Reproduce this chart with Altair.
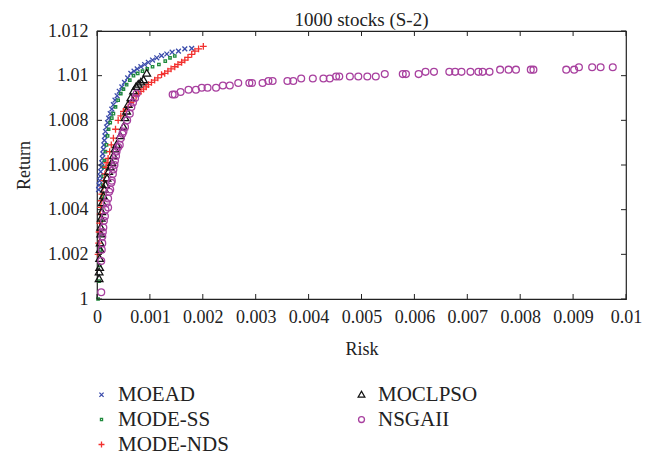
import altair as alt
import pandas as pd

# ---------------- data ----------------
series_order = ["MOEAD", "MODE-SS", "MODE-NDS", "MOCLPSO", "NSGAII"]

moead_x = [0.00003, 0.00004, 0.00005, 0.00006, 0.00007, 0.00008, 0.00009, 0.0001, 0.00011, 0.00012,
           0.00013, 0.00014, 0.00015, 0.00016, 0.00018, 0.0002, 0.00022, 0.00025, 0.00028, 0.00031,
           0.00034, 0.00038, 0.00042, 0.00047, 0.00052, 0.00058, 0.00064, 0.0007, 0.00076, 0.00083,
           0.0009, 0.00097, 0.00105, 0.00113, 0.00122, 0.00132, 0.00142, 0.00154, 0.00166, 0.00179]
moead_y = [1.0049, 1.0051, 1.0053, 1.0055, 1.0057, 1.0059, 1.0061, 1.0063, 1.0065, 1.0067,
           1.0069, 1.0071, 1.0073, 1.0075, 1.0077, 1.0079, 1.0081, 1.0083, 1.0085, 1.0087,
           1.0089, 1.0091, 1.0093, 1.0095, 1.0097, 1.0099, 1.0101, 1.0102, 1.0103, 1.0104,
           1.0105, 1.0106, 1.0107, 1.0108, 1.0109, 1.01097, 1.01105, 1.0111, 1.0112, 1.01122]

modess_x = [0.00002, 0.00004, 0.00005, 0.00006, 0.00007, 0.00008, 0.00009, 0.0001, 0.00011, 0.00012,
            0.00013, 0.00014, 0.00016, 0.00018, 0.0002, 0.00022, 0.00025, 0.00028, 0.00031, 0.00035,
            0.0004, 0.00045, 0.0005, 0.00056, 0.00062, 0.00069, 0.00077, 0.00086, 0.00095, 0.00105,
            0.00117, 0.00129, 0.00138, 0.00147]
modess_y = [1.0000, 1.0008, 1.0015, 1.0022, 1.0029, 1.0035, 1.0041, 1.0046, 1.0051, 1.0055,
            1.0059, 1.0062, 1.0066, 1.0069, 1.0073, 1.0076, 1.0079, 1.0081, 1.0083, 1.0086,
            1.0089, 1.0092, 1.0094, 1.0096, 1.0098, 1.0100, 1.0101, 1.0102, 1.0103, 1.0104,
            1.0105, 1.01065, 1.0108, 1.01088]

modends_x = [0.00002, 0.00003, 0.00004, 0.00005, 0.00006, 0.00007, 0.00008, 0.00009, 0.00011, 0.00013,
             0.00015, 0.00017, 0.00019, 0.00021, 0.00024, 0.00027, 0.00031, 0.00035, 0.0004, 0.00045,
             0.0005, 0.00055, 0.00059, 0.00064, 0.00069, 0.00074, 0.00078, 0.00083, 0.00088, 0.00093,
             0.00097, 0.00103, 0.00109, 0.00115, 0.00122, 0.00128, 0.00134, 0.0014, 0.00147, 0.00153,
             0.0016, 0.00166, 0.00172, 0.00179, 0.00185, 0.00192, 0.00201]
modends_y = [1.0020, 1.0025, 1.0030, 1.0034, 1.0038, 1.0041, 1.0044, 1.0047, 1.0050, 1.0053,
             1.0056, 1.0059, 1.0061, 1.0063, 1.0066, 1.0069, 1.0072, 1.0076, 1.0080, 1.0082,
             1.0084, 1.0085, 1.0086, 1.0088, 1.0089, 1.0091, 1.0092, 1.0093, 1.0094, 1.0095,
             1.0096, 1.0097, 1.0098, 1.0099, 1.01005, 1.0101, 1.0102, 1.0103, 1.0104, 1.0105,
             1.0106, 1.0107, 1.01082, 1.01095, 1.0111, 1.0112, 1.01131]

moclpso_x = [0.00004, 0.00004, 0.00005, 0.00005, 0.00006, 0.00006, 0.00007, 0.00007, 0.00008, 0.00009,
             0.0001, 0.00012, 0.00014, 0.00016, 0.00019, 0.00022, 0.00025, 0.00028, 0.00031, 0.00034,
             0.00037, 0.00044, 0.0005, 0.00053, 0.00056, 0.00059, 0.00064, 0.00069, 0.00074, 0.00078,
             0.00083, 0.00088, 0.00094]
moclpso_y = [1.0009, 1.0012, 1.0014, 1.0018, 1.0022, 1.0025, 1.0029, 1.0032, 1.0036, 1.0039,
             1.0043, 1.0046, 1.0049, 1.0051, 1.0054, 1.0057, 1.0059, 1.0061, 1.0064, 1.0067,
             1.0069, 1.0073, 1.0077, 1.0081, 1.0084, 1.0087, 1.0090, 1.0093, 1.0095, 1.0096,
             1.0097, 1.0098, 1.0101]

nsga_x = [0.00008, 0.00008, 0.00009, 0.0001, 0.0001, 0.00011, 0.00012, 0.00013, 0.00015, 0.00016,
          0.00018, 0.00021, 0.00021, 0.00023, 0.00025, 0.00027, 0.00028, 0.0003, 0.00031, 0.00033,
          0.00034, 0.00036, 0.00037, 0.0004, 0.00043, 0.00045, 0.00048, 0.0005, 0.00053, 0.00057,
          0.00062, 0.00065, 0.00068, 0.00072, 0.00075,
          0.00143, 0.00147, 0.00158, 0.00173, 0.00187, 0.00198, 0.00209, 0.00225, 0.00238, 0.00251,
          0.00267, 0.00288, 0.00293, 0.00313, 0.00324, 0.00332, 0.0036, 0.00371, 0.00386, 0.00408,
          0.00428, 0.0044, 0.00452, 0.00458, 0.00478, 0.00494, 0.00511, 0.00527, 0.00544, 0.00578,
          0.00584, 0.00608, 0.00621, 0.00637, 0.00666, 0.00677, 0.00689, 0.00706, 0.00721, 0.00729,
          0.00742, 0.00762, 0.00778, 0.00792, 0.0082, 0.00825, 0.00887, 0.00902, 0.00911, 0.00936,
          0.00952, 0.00975]
nsga_y = [1.0003, 1.0017, 1.0022, 1.0025, 1.0028, 1.0030, 1.0032, 1.0035, 1.0037, 1.0040,
          1.0043, 1.0045, 1.0041, 1.0048, 1.0049, 1.0052, 1.0053, 1.0056, 1.0058, 1.0060,
          1.0062, 1.0064, 1.0066, 1.0068, 1.0069, 1.0072, 1.0074, 1.0075, 1.0077, 1.0080,
          1.0083, 1.0086, 1.0088, 1.0090, 1.0092,
          1.00916, 1.00916, 1.00927, 1.00937, 1.00937, 1.00946, 1.00946, 1.00946, 1.00956, 1.00956,
          1.00967, 1.00967, 1.00967, 1.00967, 1.00976, 1.00976, 1.00976, 1.00976, 1.00987, 1.00987,
          1.00987, 1.00987, 1.00996, 1.00996, 1.00996, 1.00996, 1.00996, 1.00996, 1.01007, 1.01007,
          1.01007, 1.01007, 1.01017, 1.01017, 1.01017, 1.01017, 1.01017, 1.01017, 1.01017, 1.01017,
          1.01017, 1.01027, 1.01027, 1.01027, 1.01027, 1.01027, 1.01027, 1.01027, 1.01038, 1.01038,
          1.01038, 1.01038]

x_ticks = [0, 0.001, 0.002, 0.003, 0.004, 0.005, 0.006, 0.007, 0.008, 0.009, 0.01]
y_ticks = [1.0, 1.002, 1.004, 1.006, 1.008, 1.01, 1.012]

rows = []
for k, (name, xs_, ys_) in enumerate([("MOEAD", moead_x, moead_y), ("MODE-SS", modess_x, modess_y),
                                      ("MODE-NDS", modends_x, modends_y), ("MOCLPSO", moclpso_x, moclpso_y),
                                      ("NSGAII", nsga_x, nsga_y)]):
    for a, b in zip(xs_, ys_):
        rows.append({"series": name, "risk": a, "ret": b, "layer": k})
df = pd.DataFrame(rows)

# ---------------- styles ----------------
W, H = 529, 268
colors = ["#3a4bab", "#1f8a3c", "#f2302e", "#111111", "#a8409f"]
# marker glyphs drawn at one symbol size; the path extent sets the visible size
shapes = [
    "M-0.6,-0.6L0.6,0.6M-0.6,0.6L0.6,-0.6",
    "M-0.3,-0.3L0.3,-0.3L0.3,0.3L-0.3,0.3Z",
    "M-0.85,0L0.85,0M0,-0.85L0,0.85",
    "M0,-1L0.95,0.65L-0.95,0.65Z",
    "M0.85,0A0.85,0.85 0 1 1 -0.85,0A0.85,0.85 0 1 1 0.85,0Z",
]
FONT = "Liberation Serif"
INK = "#222"

xs = alt.Scale(domain=[0, 0.01], nice=False, zero=False)
ys = alt.Scale(domain=[1.0, 1.012], nice=False, zero=False)

points = alt.Chart(df).mark_point(filled=False, strokeWidth=1.3, opacity=1, size=64).encode(
    x=alt.X("risk:Q", scale=xs, title="Risk",
            axis=alt.Axis(values=x_ticks, format="~g", ticks=False, tickSize=0, domain=False,
                          grid=False, labelPadding=9, titlePadding=14, labelFlush=False,
                          labelFont=FONT, labelFontSize=18, labelColor=INK,
                          titleFont=FONT, titleFontSize=18, titleFontWeight="normal", titleColor=INK)),
    y=alt.Y("ret:Q", scale=ys, title="Return",
            axis=alt.Axis(values=y_ticks, format="~g", ticks=False, tickSize=0, domain=False,
                          grid=False, labelPadding=9, titlePadding=14, labelFlush=False,
                          labelFont=FONT, labelFontSize=18, labelColor=INK,
                          titleFont=FONT, titleFontSize=18, titleFontWeight="normal", titleColor=INK)),
    color=alt.Color("series:N", scale=alt.Scale(domain=series_order, range=colors),
                    legend=alt.Legend(title=None, orient="none", legendX=-6, legendY=353,
                                      columns=2, columnPadding=122, rowPadding=3,
                                      labelFont=FONT, labelFontSize=21, labelColor=INK,
                                      labelOffset=6, padding=0, symbolSize=49,
                                      symbolStrokeWidth=1.3)),
    shape=alt.Shape("series:N", scale=alt.Scale(domain=series_order, range=shapes)),
    order=alt.Order("layer:Q"),
)

xt = pd.DataFrame({"t": x_ticks})
yt = pd.DataFrame({"t": y_ticks})
TL = 5
tick_bottom = alt.Chart(xt).mark_rule(color=INK, strokeWidth=1).encode(
    x=alt.X("t:Q", scale=xs), y=alt.value(H), y2=alt.value(H - TL))
tick_top = alt.Chart(xt).mark_rule(color=INK, strokeWidth=1).encode(
    x=alt.X("t:Q", scale=xs), y=alt.value(0), y2=alt.value(TL))
tick_left = alt.Chart(yt).mark_rule(color=INK, strokeWidth=1).encode(
    y=alt.Y("t:Q", scale=ys), x=alt.value(0), x2=alt.value(TL))
tick_right = alt.Chart(yt).mark_rule(color=INK, strokeWidth=1).encode(
    y=alt.Y("t:Q", scale=ys), x=alt.value(W), x2=alt.value(W - TL))

chart = alt.layer(points, tick_bottom, tick_top, tick_left, tick_right).properties(
    width=W, height=H, background="white",
    padding={"left": 7, "top": 3, "right": 5, "bottom": 0},
    title=alt.Title("1000 stocks (S-2)", font=FONT, fontSize=19, fontWeight="normal",
                    color=INK, offset=-8, anchor="middle", frame="group"),
).configure_view(stroke=INK, strokeWidth=1.2)

chart.save("out.html", embed_options={"renderer": "svg", "actions": False})
